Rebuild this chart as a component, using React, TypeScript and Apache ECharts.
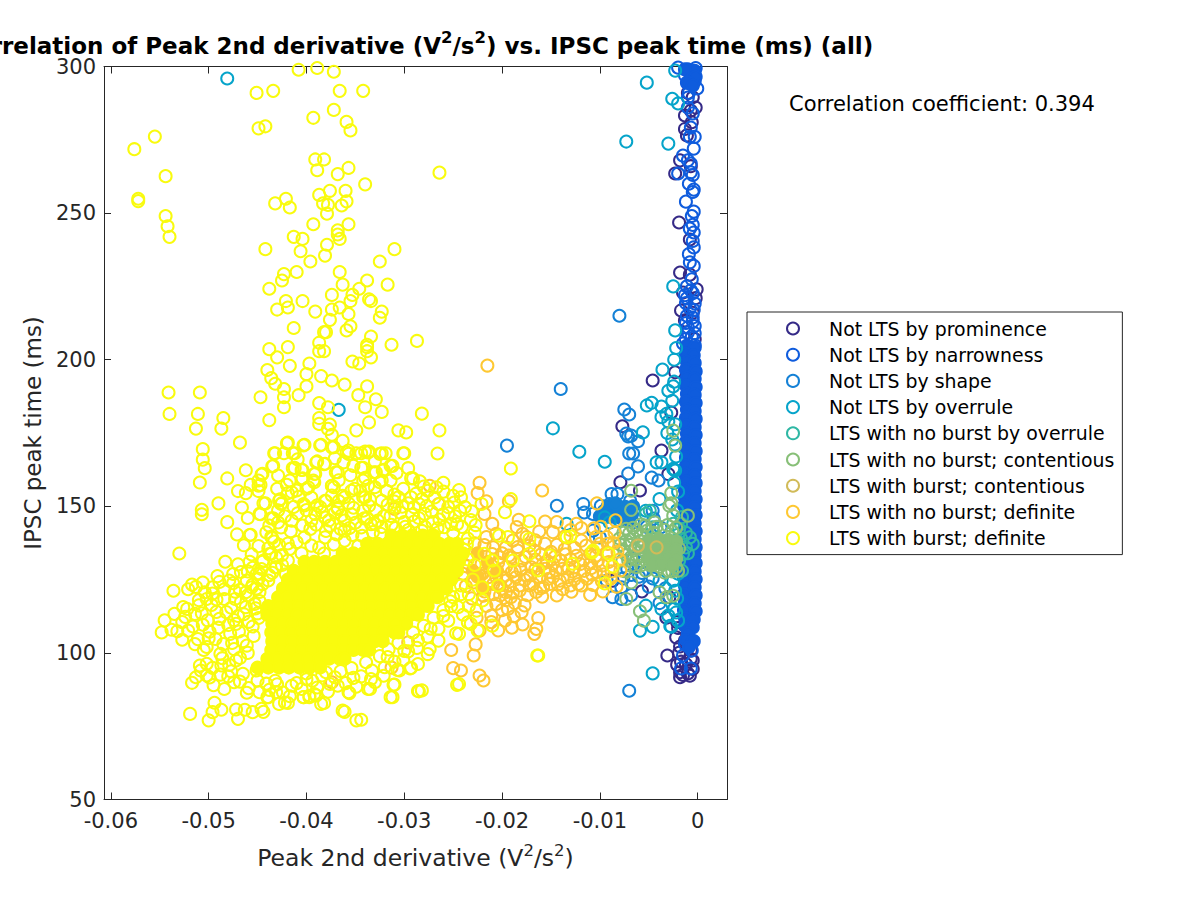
import React, { useEffect, useRef } from "react";
import * as echarts from "echarts";

const titleParts = ["Correlation of Peak 2nd derivative (V", "2", "/s", "2", ") vs. IPSC peak time (ms) (all)"];
const xTicks = [-0.06, -0.05, -0.04, -0.03, -0.02, -0.01, 0];
const yTicks = [50, 100, 150, 200, 250, 300];
const categories = ["Not LTS by prominence", "Not LTS by narrowness", "Not LTS by shape", "Not LTS by overrule", "LTS with no burst by overrule", "LTS with no burst; contentious", "LTS with burst; contentious", "LTS with no burst; definite", "LTS with burst; definite"];
const colors = ["#352A87", "#0F5CDD", "#1481D6", "#06A4CA", "#2EB7A4", "#87BF77", "#D1BB59", "#FEC832", "#F9FB0E"];

// x values are in units of 0.001 V^2/s^2, y values in ms
const prominence = [[-0.5,289.5],[-1.3,283.3],[-0.7,285],[-0.2,286],[-1.1,276.5],[-1.3,278.7],[-1.8,268],[-2.3,263.5],[-0.7,266],[-1.9,246.8],[-0.8,241],[-1.8,229.7],[-0.8,229],[-1.5,222.9],[-0.1,224],[-1.7,216.8],[-1.3,213.4],[-0.2,221],[-0.3,207],[-0.5,216],[-1,291],[-0.6,281],[-4.6,192.9],[-7.7,177.3],[-3.7,169],[-5.9,155.4],[-7.9,158.2],[-5.7,121],[-3.1,99.1],[-1.8,91.7],[-0.8,92.2],[-1.8,93.4],[-0.5,94.5],[-1.2,96.2],[-2.3,195.7],[-2.7,182],[-3,161],[-8.7,124.6],[-3.2,112],[-2.9,119],[-1.3,104.2],[-0.7,100.8],[-2.2,105.3],[-1.8,102.2],[-0.5,97.4],[-1,93],[-1.5,92.5],[-2,108.5],[-2.1,110.5],[-1.9,100],[-0.7,98],[-1.7,97],[-2.1,96]];
const narrownessRings = [[-1,299],[-0.5,297.5],[-0.2,299.5],[-1.3,297],[-0.7,296],[-0.3,295],[-1.1,294.5],[-0.04,292.5],[-2,299.6],[-1,289.4],[-0.7,279.2],[-1.5,269.6],[-0.7,266.9],[-0.7,263.9],[-2,263.5],[-0.4,258],[-0.5,257.2],[-1.2,253.9],[-0.4,250.5],[-0.6,249],[-0.8,244.7],[-0.4,243.4],[-0.5,240.5],[-0.4,238.3],[-0.8,233.2],[-0.6,227.4],[-0.7,223.7],[-1.1,220.9],[-1.2,219.3],[-0.3,219.2],[-0.5,214.4],[-0.3,211.5],[-1,209.3],[-0.3,209],[-1.5,205.5],[-0.3,205],[-0.6,100.8],[-1.7,94.7],[-0.7,94.7],[-1.5,99.1],[-1.3,103],[-0.4,104],[-1.2,207],[-0.6,208],[-1,211],[-0.5,213],[-1.1,215],[-0.4,217],[-1.2,212.5],[-0.8,217.5],[-1.3,222],[-0.5,222.7],[-1.1,225],[-0.4,232],[-0.9,236],[-0.5,246],[-0.9,260],[-0.5,263],[-1,268],[-0.4,272],[-1,286],[-0.5,284],[-0.8,276],[-0.3,276],[-0.9,291]];
const narrownessCore = [[-0.9,298.5],[-0.3,298.5],[-1.3,299],[-0.6,296],[-0.2,296.5],[-1,294.5],[-0.5,293.5],[-1.1,204.8],[-0.3,204.2],[-1.2,202],[-0.4,201.5],[-1.1,199.3],[-0.3,198.9],[-1.2,196.6],[-0.2,196],[-1.1,193.9],[-0.3,193.5],[-1.2,191.2],[-0.2,190.7],[-1.1,188.4],[-0.3,188],[-1.2,185.7],[-0.2,185.2],[-1.1,183],[-0.3,182.5],[-1.2,180.2],[-0.2,179.8],[-1.2,177.5],[-0.3,177],[-1.1,174.8],[-0.2,174.3],[-1.2,172],[-0.3,171.6],[-1.1,169.3],[-0.2,168.8],[-1.2,166.6],[-0.3,166.1],[-1.2,163.8],[-0.2,163.4],[-1.3,161.1],[-0.3,160.6],[-1.2,158.4],[-0.2,157.9],[-1.3,155.6],[-0.3,155.2],[-1.3,152.9],[-0.2,152.4],[-1.4,150.2],[-0.3,149.7],[-1.3,147.4],[-0.2,147],[-1.4,144.7],[-0.3,144.2],[-1.3,142],[-0.2,141.5],[-1.4,139.2],[-0.3,138.8],[-1.3,136.5],[-0.2,136],[-1.4,133.8],[-0.3,133.3],[-1.4,131],[-0.2,130.6],[-1.3,128.3],[-0.3,127.8],[-1.4,125.6],[-0.2,125.1],[-1.3,122.8],[-0.3,122.4],[-1.4,120.1],[-0.2,119.6],[-1.3,117.4],[-0.3,116.9],[-1.4,114.6],[-0.2,114.2],[-1.3,111.9],[-0.4,111.4],[-1.3,109.2],[-0.5,108.7],[-1,106.6],[-1.2,104.4],[-0.5,104],[-0.9,102]];
const shapeRings = [[-8,215],[-14,190],[-19.5,170.7],[-7.5,183],[-7,181.3],[-7.3,174.8],[-6.8,174.1],[-7.1,173.8],[-6.1,172.2],[-7,168],[-6.6,168],[-6.1,163.6],[-7.1,161.2],[-8.8,154.2],[-8.2,154.2],[-14.4,150.2],[-11.7,150.8],[-11.6,147.9],[-10.7,147.4],[-9.9,150.2],[-9,150.8],[-7.6,148.5],[-8.7,147.4],[-6.9,151.9],[-9.3,124.6],[-8.7,119],[-7.8,118.4],[-7,87.1],[-4.7,159.8],[-4,158.8],[-10.7,141.7],[-10,139.4],[-8,145.1],[-9.3,148.5],[-8,149.7],[-7.3,146.2],[-4.6,148.5],[-6.6,144.5],[-6.6,132],[-5.6,131],[-5.2,143],[-3.8,142.8],[-4.5,145.8],[-7.2,128.6],[-5.7,127.3],[-7.8,122.4],[-6.8,119.7],[-6.8,126.6],[-6,126],[-4.6,125.4],[-7.6,125.4],[-5,122.6],[-3.3,122],[-3.9,117]];
const shapeCore = [[-9.2,150],[-8.2,148],[-7.4,149.8],[-8.4,151],[-7.9,146],[-6.7,147.5],[-9.6,148.4],[-8.9,146.4],[-7,145.2],[-6.6,150],[-10,146.6]];
const overruleRings = [[-48.1,295.9],[-36.7,182.9],[-2.3,298.6],[-5.2,294.5],[-2.6,289],[-2,287.4],[-7.3,274.4],[-3,273.7],[-2.5,225],[-2.3,210],[-14.8,176.6],[-12.1,168.6],[-9.5,165.2],[-3.6,196.6],[-3,189.4],[-2.5,190.9],[-2.6,186],[-5.2,184.4],[-4.7,185.3],[-3.7,184],[-3.7,180.4],[-3.2,181.5],[-3,178.9],[-2.3,178],[-3.1,175],[-5.6,175.2],[-2.3,171],[-3.7,165],[-4.2,165],[-2.4,162.5],[-2.5,162.8],[-2.3,162.2],[-3.9,152.5],[-5.3,148.5],[-4.6,93],[-5.9,107.6],[-4.6,108.9],[-5.3,116.1],[-3.7,115],[-2.7,108.9],[-2.8,109.2],[-3,112.7],[-13.4,144],[-9.5,146.2],[-9,144.5],[-3.9,124.6],[-2.5,124.6],[-2,127],[-2.4,200],[-2.2,204],[-2.4,192.5],[-2.6,172.8],[-2.2,167],[-2.4,158],[-2,155],[-2.1,148.6],[-2.1,118.6],[-2.4,115],[-2.2,113.8],[-2.3,121.2],[-2,111]];
const noBurstOverrule = [[-0.8,139.4],[-1.2,141],[-0.5,137.2],[-1.5,133.7],[-2.2,138.3],[-1.9,142.3],[-2.5,144],[-4.6,142.8],[-5.3,147.4],[-4.9,148.5],[-2.3,136],[-1.2,136],[-1.9,131.5],[-1.6,128],[-1,134],[-1.7,139],[-1.7,144],[-1.6,146.3]];
const contentiousRings = [[-6.8,155.3],[-6.8,148.8],[-1,146.8],[-2.5,175.8],[-2.3,170.7],[-2.7,154.5],[-2.9,150.2],[-2.5,146.8],[-2.7,151],[-4.4,144.5],[-5.8,143.8],[-7.3,142.3],[-7.3,118.4],[-6.8,124],[-5.9,114.2],[-5.5,111],[-3.9,120.7],[-2.5,119.5],[-3.2,119],[-6.6,142.7],[-5.8,140.5],[-7.3,138.3],[-6.6,139.4],[-7.5,134.9],[-7.1,131.5],[-6.3,129.2],[-5.3,128],[-4.2,128],[-3,128],[-2.2,129.2],[-6.4,135.6],[-5.6,133],[-6,137],[-3.4,142],[-2.6,141.5],[-4.5,141],[-6.8,132.8],[-7.6,141],[-7,140.8],[-7.9,136.9],[-7.3,133.4],[-6.5,135],[-6.3,131.9],[-5.8,129.8],[-5.9,138.1],[-5.2,141.6],[-4.9,130],[-3.9,129.4],[-3.4,127.4],[-2.6,127.8],[-1.9,135.6],[-8,139],[-7.7,131.5],[-6.9,136.9],[-6.2,141.7],[-5.4,143.4],[-4.2,143],[-3.1,143.6],[-2.2,142.7],[-2,128],[-6.8,129.7],[-7.5,127.9],[-5.7,136]];
const contentiousCore = [[-5,138.5],[-4,138.8],[-3,138.6],[-2.2,138],[-5.2,135.5],[-4.2,135.8],[-3.2,135.7],[-2.2,135.2],[-5,132.5],[-4,132.8],[-3,132.6],[-2.2,132.2],[-4.6,130],[-3.6,130.2],[-2.6,130]];
const burstContentious = [[-6.1,136.6],[-4.2,136]];
const noBurstDefinite = [[-21.5,198],[-22.3,158],[-22.5,154.5],[-15.9,155.4],[-19.3,151.7],[-21.6,151.7],[-21.8,147.4],[-21,144],[-18.3,145.4],[-15.6,144.8],[-14.4,144.6],[-11.9,142.6],[-16.2,141.4],[-14.8,141.2],[-13.6,139.7],[-11.9,138.3],[-10.4,139.5],[-17.9,140.6],[-18.9,138.3],[-18.4,134.9],[-16.7,134.9],[-15.6,137.2],[-13.6,135.3],[-12.6,135.8],[-11.4,136.6],[-10.4,133.2],[-14,131.5],[-13.8,128.7],[-14.8,130.4],[-15.6,128.7],[-17,129.2],[-18,131.5],[-17.5,126.4],[-18.7,128.1],[-19.9,125.8],[-19.2,123],[-18.2,123],[-17.2,123],[-15.1,123.5],[-14.3,123.3],[-13.3,125.8],[-12.2,123.5],[-11.9,123],[-10.8,126.7],[-9.7,129.8],[-12.9,120.9],[-15.9,119.2],[-14.4,119.6],[-11,119.8],[-9.7,121],[-20.2,119.6],[-19.1,119],[-20.6,116.7],[-19.4,115],[-17.7,116.2],[-18,113.9],[-21.1,112.7],[-19.7,111],[-21.1,110.5],[-17.9,109.7],[-16.3,111.9],[-16.5,108.2],[-16.7,106.5],[-22.3,107.6],[-22.7,102.9],[-22.9,99.1],[-25.2,101],[-25,94.8],[-24.2,94],[-22.3,92.3],[-21.9,90.6],[-22,127],[-21.4,125.8],[-22.3,126.4],[-20.9,123.5],[-20.2,123],[-19.6,124.7],[-20.9,120],[-19.6,120.7],[-18.6,125.8],[-18.2,121.3],[-16.8,123.5],[-16.2,125.8],[-15.8,122.4],[-14.8,125.8],[-14.5,128.1],[-12.6,129.2],[-11.7,131.5],[-11,133.8],[-10,137.2],[-9.3,134.3],[-9.3,139.5],[-10.2,131.5],[-17.5,139.5],[-19.6,136],[-19.1,132.6],[-20.2,132.6],[-20.9,136],[-20.6,140.6],[-21.6,139.5],[-18.5,142.9],[-10.3,151],[-8.4,145.2],[-37.4,90],[-31.3,95],[-29.6,103.6],[-27.4,157],[-26.5,150.8],[-31,149.1],[-8.6,137.5],[-8.2,134.5],[-9.1,131],[-8.8,127.8],[-9.8,124.5],[-8.5,141],[-24,127],[-24.6,131],[-23.7,122.8],[-23.2,133.5],[-22.8,137.4],[-22.1,130.3],[-21.8,136.8],[-21.2,128.7],[-21,133.7],[-20.4,130.8],[-20,134],[-19.6,129.4],[-19,127.6],[-18.4,136.1],[-17.6,132.7],[-17.2,136.6],[-16.6,131.8],[-16,133.6],[-15.4,131.4],[-15,134.5],[-14.4,136.9],[-13,131.9],[-12.8,127.8],[-12.4,133.1],[-11.6,128],[-11,130.5],[-10.4,127.6],[-9.9,143],[-10.6,142.5],[-13,141.9],[-12.4,144],[-16.6,138.4],[-19.6,118],[-18.7,117],[-17.4,119.7],[-16.5,120.8],[-15.3,125.2],[-13.8,121.7],[-13,123],[-10.7,123.2],[-8.3,122.6],[-21.6,116],[-21.8,121],[-23.1,118.6],[-22.6,112],[-20,114.6],[-18.8,112.5],[-20.4,107.7],[-19,108.6],[-23.6,129.5],[-22.9,124],[-21.9,119.5],[-21.2,124.5],[-20.6,125.9],[-20,121.9],[-19.3,133.2],[-18.9,120.5],[-18.1,128.3],[-17.7,124.9],[-17.1,126.4],[-16.6,128.5],[-16.1,122],[-15.8,130.4],[-15.2,127.7],[-14.6,132.8],[-14.1,124.6],[-13.5,133.6],[-13.2,128.9],[-12.6,125.1],[-12,130.3],[-11.3,125.3],[-10.9,128.9],[-10.2,135.8],[-9.6,126.8],[-9.2,137.2],[-8.9,125.3],[-8,131.8],[-7.9,128.1]];
const noBurstDefiniteCore = [[-23,128],[-22.5,126],[-21.5,131],[-22.5,134],[-20.5,128],[-22,122]];
const burstTop = [[-40.8,298.9],[-38.9,299.5],[-37.2,298.2],[-45.1,291],[-43.4,291.7],[-36.6,291.7],[-34.2,291.7],[-37.2,285.2],[-39.3,282.5],[-35.9,281.1],[-35.5,278.2],[-44.9,278.9],[-44.2,279.6],[-55.5,276.1],[-57.6,271.8],[-54.4,262.6],[-39.1,268.3],[-38.2,268.3],[-38.9,264.6],[-35.7,265.4],[-36.8,263.3],[-34,259.8],[-37.6,257.6],[-36,257.6],[-38.7,256.2],[-42.1,254.9],[-43.2,253.3],[-41.7,251.9],[-38.3,253.3],[-37.8,252.8],[-36.4,252.6],[-35.9,254],[-57.2,254.9],[-57.2,254.1],[-37.9,249.8],[-54.4,249],[-54.2,245.5],[-54,241.9],[-39.3,246.2],[-35.7,246.2],[-36.8,244.1],[-36.8,242.7],[-36.6,241.2],[-41.3,241.9],[-40.4,241.2],[-37.9,239.2],[-31,237.7],[-44.2,237.7],[-40.6,237],[-38.1,235.5],[-39.6,233.5],[-32.5,233.5],[-36.6,229.9],[-41,229.9],[-42.3,229.2],[-42.5,227],[-33.8,227],[-36.3,225.6],[-31.7,225.6],[-34.6,224.2],[-43.8,224.2],[-37.4,222.1],[-35.3,222.1],[-35.5,220],[-33.6,220.6],[-33.4,220],[-42.1,220],[-40.4,220],[-41.9,217.8],[-43,217.1],[-37.4,217.1],[-36.6,217.8],[-39.1,216.4],[-32.3,216.4],[-32.5,214.3],[-35.7,215.6],[-37.6,213.6],[-41.3,210.8],[-35.5,211.4],[-35.9,210],[-38,209.4],[-38.2,209.4],[-33.4,207.9],[-38.7,205.8],[-41.9,204.3],[-43.8,203.6],[-33.8,205.1],[-33.8,204.3],[-31.3,205.1],[-28.7,206.4],[-38.7,202.9],[-38.2,202.9],[-33.8,202.9],[-33.4,200.8],[-43,200.8],[-35.3,199.4],[-34.6,198.7],[-39.7,198.7],[-41.7,197.9],[-44,196.5],[-40,195.1],[-38.5,194.4],[-37.4,192.9],[-43.6,193.7],[-43.2,191.8],[-36.1,191.5],[-33.8,190.9],[-42.3,190],[-40,190.9],[-54.1,188.8],[-50.9,188.8],[-26.4,263.8]];
const burstMiddle = [[-44.7,187.2],[-42.3,187.2],[-42.3,183.8],[-40.8,187.9],[-38.7,185.2],[-37.8,183.8],[-34.7,187.9],[-32.9,186.5],[-34,183.8],[-32.3,182.2],[-28.2,181.6],[-54,181.5],[-51.1,181.5],[-48.5,180.1],[-51.3,176.5],[-48.7,176.5],[-43.8,179.4],[-38.7,180.1],[-38.7,178.1],[-37.6,177.9],[-37.8,176.4],[-33.6,178.6],[-34.9,175.9],[-30.6,175.9],[-29.8,175.2],[-26.4,175.9],[-46.8,171.7],[-37.4,174.4],[-36.3,172.3],[-41.9,171.7],[-40.2,171],[-38.5,171],[-37.2,170.2],[-50.6,169.5],[-43.2,168.1],[-42.3,168.1],[-41.2,168.1],[-35.7,169],[-35.7,167.9],[-34.9,168.1],[-34,168.7],[-33.6,168.7],[-32.3,168.1],[-31.9,168.1],[-30,168.1],[-26.6,168],[-50.6,165.9],[-50.4,163],[-50.9,158.1],[-46.2,162.3],[-48.1,159.5],[-43.4,163.8],[-38.9,165.3],[-38.1,164.5],[-41.2,163.1],[-40.4,162.4],[-36.8,161.6],[-34.2,163.1],[-31.2,163.8],[-32.1,162.4],[-32.9,161.6],[-29.1,159.5],[-44.5,161.1],[-47,155.2],[-46.2,154.5],[-45.7,157.3],[-44.9,158.8],[-44.9,155.2],[-44.7,157.3],[-40.4,159.5],[-39.1,161.1],[-39.3,158.8],[-40,156],[-37.4,157],[-37.2,156.5],[-34,159.7],[-32.3,158.8],[-35.1,156],[-31.8,155.2],[-49,151],[-46.6,149.6],[-50.7,148.8],[-50.7,147.3],[-48.1,144.6],[-44.2,151],[-44.7,147.3],[-42.7,152.4],[-42.5,151.1],[-41,155.4],[-41.9,154.5],[-40.2,150.3],[-38,151.8],[-38.9,150.3],[-36.1,153.1],[-36.8,149.5],[-34,153.1],[-45.7,140.3],[-46.4,136.7],[-43.4,145.9],[-53,133.9],[-48.3,131.1],[-43.6,139.6],[-43.6,133.8],[-45.8,131.1],[-44.5,131.1],[-43.1,129.2],[-49.1,126.2],[-47.5,126.9],[-53.6,121.2],[-51.7,123.3],[-51.3,122.5],[-50.6,124],[-49.6,122.4],[-47.5,123.8],[-45.5,123.3],[-44.8,127],[-19.1,162.9],[-19.1,152.5],[-19.7,148]];
const burstUpperCore = [[-42,171.5],[-40.3,170.8],[-38.6,170.8],[-37.4,170.1],[-43.3,168.1],[-41.4,168.1],[-35.9,168.4],[-34.4,168.1],[-33.7,168.4],[-32.5,167.9],[-30.1,168.1],[-43.5,163.6],[-41.4,163],[-39,165],[-38.2,164.4],[-37,161.6],[-34.4,163.1],[-33.1,161.6],[-31.4,163.8],[-32.2,162.2],[-29.3,159.6],[-26,158],[-44.6,160.8],[-44.9,157],[-40.5,162.4],[-40.5,159.3],[-39.2,161],[-39.2,158.2],[-37.4,157],[-41.5,154.8],[-39.8,156.5],[-34.2,158.8],[-32.5,158.2],[-31.8,155.3],[-34.5,155.3],[-36.3,153.6],[-27.6,155.3],[-26.7,156.5],[-29.3,153.1],[-30.6,153.1],[-25,153.6],[-24.2,153.1],[-26.4,150.8],[-44.4,151],[-44.8,147.4],[-42.8,151.9],[-42.6,150.8],[-40.3,150.8],[-38.1,151.9],[-38.6,149.7],[-36.8,149.1],[-34.2,153.1],[-34.2,148.5],[-32.3,151.9],[-31,149.7],[-29,149.7],[-27.9,147.4],[-25.5,149.7],[-23.8,149.7],[-22.1,150.8],[-45.8,140.2],[-43.6,145.9],[-43.5,139.2],[-42.6,142.8],[-41.5,145.1],[-39.5,145.1],[-38.1,146.2],[-36.1,145.1],[-34.4,142.8],[-32.7,145.1],[-41.7,135.5],[-40.2,139.4],[-38.1,139.4],[-36.1,141.7],[-43.8,133.7],[-43.2,129.2],[-45.1,126.9],[-45.6,122.4],[-44.4,131.5],[-41.9,131.5],[-41.5,125.8],[-43.9,124.7],[-40.9,147.6],[-39.6,142.3],[-37.6,143.4],[-35.4,147.3],[-33.4,143.9],[-31.4,146.7],[-30,144.6],[-28.5,146],[-26.4,145.5],[-24.8,146.6],[-23.2,145.3],[-41,137.8],[-38.7,135.9],[-42.8,136.9]];
const burstRight = [[-17.2,144.9],[-17.2,138.9],[-13.4,139.5],[-13,139.8],[-15.1,133.2],[-17.2,133.8],[-16.3,128.1],[-12.8,130.4],[-10.8,134.3],[-20.8,128.1],[-20.4,123],[-22,122.4],[-21,109.3],[-23.2,109.9],[-24.4,106.5],[-16.3,99.1],[-24.4,89.4],[-22,117.9],[-20.3,140],[-19.4,139.5],[-21.8,133.8],[-21,131.5],[-18.9,131.5],[-9.5,123.7],[-9.1,133.9],[-8.7,129.5],[-10.7,134.9],[-23.6,137],[-22.8,141],[-24.2,120],[-23.4,116],[-24,113],[-22.6,114.4],[-25.3,117.6]];
const burstLowerLeft = [[-54.8,107],[-54.5,111.1],[-53.8,107.9],[-53.2,107.4],[-53.5,113.3],[-52.6,115.6],[-52.2,115],[-52.1,107.6],[-51.4,113.3],[-51.1,104.7],[-50.6,109.6],[-50.1,111.1],[-49.2,114],[-49.3,104.8],[-48.4,118.4],[-47.3,118.4],[-50.2,118.4],[-49.6,120.2],[-48.2,113.9],[-47.2,109.9],[-46.2,115.6],[-45.3,116.7],[-47.4,101.3],[-50.9,95.7],[-50.2,96.3],[-50.8,94],[-50.2,92.3],[-51.7,89.8],[-51.3,91.7],[-48.7,95.7],[-48.8,92.6],[-48,92],[-47.4,90],[-46.5,92.9],[-45.9,88],[-45.1,94],[-44.1,89.5],[-44,84.9],[-43.1,86.6],[-42.8,82.6],[-41.9,82.9],[-40.3,84.9],[-39.7,84.9],[-39,85.5],[-38.2,82.9],[-36.1,79.9],[-34.9,77],[-34.4,77.2],[-49.4,83],[-48.7,80.6],[-49.6,79.8],[-51.9,79.2],[-50,77],[-47.2,80.7],[-47,77.5],[-46.3,80.6],[-45.5,79.8],[-44.4,79.9],[-46.5,104],[-45.5,109],[-47,112.6],[-45,113.5],[-46,100],[-47.8,106.5],[-48.8,99.7],[-49.9,107.2],[-48,109.5],[-46,119.6],[-44.8,120.8],[-46.8,121.5],[-51,118],[-52.7,110.5],[-48.5,103],[-47.2,97.4]];
const burstLowerEdge = [[-31.4,84.9],[-31.1,89.1],[-28.5,86.9],[-28.6,96.2],[-29.4,94.7],[-30.7,94.2],[-27.6,99.6],[-27.4,101.3],[-26.5,104.2],[-24.7,106.7],[-23.5,110.4],[-22.5,107.6],[-24.6,89.1],[-36.3,80.3],[-38.5,82.6],[-40.3,84.9],[-42.2,83.1],[-43.9,84.9],[-44.6,80.9],[-39.7,85.4],[-39.2,86],[-35.7,86.6],[-33.7,87.7],[-32,95.1],[-33.4,91.1],[-36.8,88.8],[-37.6,89.4],[-41.5,88.8],[-43.2,90.5],[-31,89.2],[-31.2,84.9],[-28.6,87],[-30.5,94],[-29.3,94.9],[-35.6,86.3],[-33.5,87.7],[-35.2,91.5],[-38,93.4],[-40,91],[-31.7,98.6],[-30,100.7],[-28.6,104.3],[-27.3,108.3],[-26,112.6],[-25.2,116],[-16.4,99.1],[-28.2,87.2]];
const burstAroundLeft = [[-46.8,98.3],[-46.1,102.5],[-47.6,103.4],[-45.4,105.8],[-46.9,107.3],[-45.9,110.6],[-47.4,111.2],[-44.9,111.9],[-46.4,113.2],[-45.2,115.2],[-47.7,115.4],[-46.7,117.3],[-44.8,117.7],[-46.2,120.7],[-47.3,120.9],[-45.1,122],[-44.5,123.4],[-46.1,124.7],[-44.9,125.3],[-43.8,126.5],[-44.6,128.6],[-43.5,127.3],[-42.5,130],[-45.5,129],[-43.9,135.7],[-42.5,133.4],[-41.9,137.3],[-43.3,138],[-44.1,141.1],[-41.6,141.5],[-42.9,144.5],[-40.5,134],[-39.5,136.6],[-38.2,133.9],[-37.2,137],[-36.1,138.3],[-35.3,140.2],[-34.7,136.4]];
const burstAroundAbove = [[-40.4,143.4],[-39.1,147.4],[-38,141.6],[-37.1,147.8],[-36.5,142.3],[-35.7,151],[-35,144.4],[-33.8,146],[-33.2,141.2],[-32.9,148.6],[-32.3,143],[-31.7,150.6],[-30.9,142.6],[-30.4,147.8],[-29.6,141.9],[-29,144.8],[-28.5,150.8],[-27.9,143],[-27.2,148.2],[-26.6,142.5],[-26,147.3],[-25.2,144],[-25,141],[-24.3,148.5],[-24.1,143],[-23.5,139],[-23.1,148.3],[-22.7,143.6],[-23.9,135.2],[-22.8,130],[-23.5,131.9],[-33.5,152.3],[-35.4,155.3],[-36.7,151.8],[-30.1,156],[-31,151.6],[-28.2,152.5],[-28,156.7],[-33,156.5],[-29.6,151],[-24.9,151.3],[-26,155],[-43,156],[-41.7,158.8],[-36.2,165],[-35.2,163.8],[-33,165.3],[-30.8,161.4],[-29.6,163],[-28.4,158.5],[-37.1,166.4],[-42.9,160.5],[-46,146],[-47.1,140.4],[-40.9,166]];
const burstDenseAbove = [[-42.2,146.6],[-41.3,149.8],[-40,148.7],[-39,143.7],[-38.4,148.1],[-37.7,145.2],[-36.9,140.4],[-36.4,146.9],[-35.6,142.6],[-35.2,149.5],[-34.3,139.9],[-34.1,145.9],[-33.6,150.2],[-33,144],[-32.4,140.6],[-32.1,146.6],[-31.3,143.7],[-31,154],[-30.2,149.9],[-29.9,143],[-29.2,147.1],[-28.8,154.3],[-28.2,141.6],[-27.7,150.1],[-27.1,144.6],[-26.9,153],[-25.9,142.9],[-25.5,147.6],[-24.6,143.9],[-24.4,155.5],[-42.9,148.6],[-43.8,143.4],[-40.8,153.2],[-37.4,153.7],[-39.5,153],[-42,157.3],[-36.7,158.9],[-35.5,160.6],[-33.7,157],[-31.4,158.8],[-46.7,127.6],[-45.6,133.6],[-44.9,136.4],[-46,127.8],[-47,130.2],[-42.1,126.8],[-43.1,132.6]];
const burstAroundBelow = [[-46.8,90.2],[-46.1,86.4],[-45,90.6],[-44.8,86.6],[-43.8,87.4],[-43,89.3],[-42.4,86.5],[-41.7,85.2],[-41,89.7],[-40.5,87.7],[-40,93],[-39.4,90.5],[-38.9,88.2],[-38.4,92.3],[-37.8,86.8],[-37.1,91.7],[-36.5,93.8],[-36,89.7],[-35.4,94.8],[-34.9,88.5],[-34.4,92],[-33.9,96.8],[-33.3,94],[-33,90],[-32.5,98.9],[-32.1,92.2],[-31.6,101.2],[-31,97],[-30.6,103.4],[-30.1,97.6],[-29.6,100.5],[-29.1,106.9],[-28.7,101.7],[-28,109.2],[-27.6,105.5],[-27,112],[-26.5,108.2],[-26,114.6],[-25.5,111],[-25,119],[-24.5,115.6],[-24.2,123],[-23.4,120],[-23,125],[-48.4,87.7],[-49.5,89],[-47.7,93.7],[-49.9,91.6]];
const burstFarLeft = [[-50.5,101],[-51.4,103],[-52.7,104.5],[-50,105],[-49,108.6],[-51.6,109],[-48.9,111.6],[-50.7,113.5],[-52.4,112.3],[-51,116.2],[-49.7,116.4],[-48.4,121.7],[-50.4,120.7],[-49.2,118.2],[-52.1,121.7],[-47.9,124.7],[-48.9,124.2],[-50.2,102],[-48.6,98.2],[-49.6,94.9],[-47.9,95.9]];
const burstCoreRows: [number, number[]][] = [
  [140, [-31.3,-30.2,-29.2,-28.1,-27]],
  [137.2, [-33.8,-32.7,-31.7,-30.6,-29.6,-28.5,-27.5,-26.4,-25.4,-24.6]],
  [134, [-36.3,-35.2,-34.2,-33.1,-32.1,-31,-30,-28.9,-27.9,-26.8,-25.8,-24.7,-24]],
  [131.1, [-40.2,-39.2,-38.1,-37,-36,-34.9,-33.9,-32.8,-31.8,-30.7,-29.7,-28.6,-27.6,-26.5,-25.5,-24.4]],
  [128, [-41.3,-40.3,-39.2,-38.2,-37.1,-36.1,-35,-34,-32.9,-31.9,-30.8,-29.8,-28.7,-27.7,-26.6,-25.6,-24.6]],
  [125, [-41.9,-40.8,-39.8,-38.7,-37.7,-36.6,-35.6,-34.5,-33.5,-32.4,-31.4,-30.3,-29.3,-28.2,-27.2,-26.1,-25.2]],
  [122, [-42.4,-41.4,-40.3,-39.3,-38.2,-37.2,-36.1,-35.1,-34,-33,-31.9,-30.9,-29.8,-28.8,-27.7,-26.7,-25.7]],
  [119, [-42.9,-41.9,-40.8,-39.8,-38.7,-37.7,-36.6,-35.6,-34.5,-33.5,-32.4,-31.4,-30.3,-29.3,-28.2,-27.2,-26.6]],
  [116, [-43.9,-42.8,-41.8,-40.7,-39.7,-38.6,-37.6,-36.5,-35.5,-34.4,-33.4,-32.3,-31.3,-30.2,-29.2,-28.1,-27.6]],
  [113, [-44,-43,-41.9,-40.9,-39.8,-38.8,-37.7,-36.7,-35.6,-34.6,-33.5,-32.5,-31.4,-30.4,-29.3,-28.6]],
  [110, [-43.5,-42.4,-41.4,-40.3,-39.3,-38.2,-37.2,-36.1,-35.1,-34,-33,-31.9,-30.9,-29.8]],
  [107, [-43.6,-42.6,-41.5,-40.5,-39.4,-38.4,-37.3,-36.3,-35.2,-34.2,-33.1,-32.1,-31,-30.6]],
  [104, [-43.5,-42.4,-41.4,-40.3,-39.3,-38.2,-37.2,-36.1,-35.1,-34,-33,-32.2]],
  [101, [-43.6,-42.5,-41.5,-40.4,-39.4,-38.3,-37.3,-36.2,-35.2,-34.2,-33.6]],
  [98, [-44,-42.9,-41.9,-40.8,-39.8,-38.7,-37.7,-36.6,-36.1]],
  [95, [-45,-43.9,-42.8,-41.8,-40.7,-39.7,-38.6]],
];

const rowsToPoints = (rows: [number, number[]][]) => rows.flatMap(([y, xs]) => xs.map((x) => [x, y]));
const ring = (p: number[]) => [p[0] / 1000, p[1]];
const solid = (color: string) => (p: number[]) => ({ value: ring(p), itemStyle: { color } });

const seriesPoints = (i: number): any[] => {
  const c = colors[i];
  switch (i) {
    case 0: return prominence.map(ring);
    case 1: return [...narrownessRings.map(ring), ...narrownessCore.map(solid(c))];
    case 2: return [...shapeRings.map(ring), ...shapeCore.map(solid(c))];
    case 3: return overruleRings.map(ring);
    case 4: return noBurstOverrule.map(ring);
    case 5: return [...contentiousRings.map(ring), ...contentiousCore.map(solid(c))];
    case 6: return burstContentious.map(ring);
    case 7: return [...noBurstDefinite.map(ring), ...noBurstDefiniteCore.map(solid(c))];
    default: return [
      ...[...burstTop, ...burstMiddle, ...burstUpperCore, ...burstRight, ...burstLowerLeft, ...burstLowerEdge, ...burstAroundLeft, ...burstAroundAbove, ...burstDenseAbove, ...burstAroundBelow, ...burstFarLeft].map(ring),
      ...rowsToPoints(burstCoreRows).map(solid(c)),
    ];
  }
};

const FONT = "DejaVu Sans";
const INK = "#262626";

export default function App() {
  const ref = useRef<HTMLDivElement>(null);
  useEffect(() => {
    const chart = echarts.init(ref.current!, undefined, { renderer: "svg" });
    const axisLine = { show: true, onZero: false, lineStyle: { color: INK, width: 1 } };
    const tick = (customValues?: number[]) => ({ show: true, inside: true, length: 7, lineStyle: { color: INK, width: 1 }, ...(customValues ? { customValues } : {}) });
    const supRich = {
      sup: { fontFamily: FONT, fontSize: 16.5, color: INK, verticalAlign: "top" as const, lineHeight: 28 },
      base: { fontFamily: FONT, fontSize: 23.5, color: INK, lineHeight: 28, verticalAlign: "bottom" as const },
    };
    const option: any = {
      animation: false,
      backgroundColor: "#fff",
      title: {
        left: -42,
        top: 29,
        padding: 0,
        text: `{b|${titleParts[0]}}{s|${titleParts[1]}}{b|${titleParts[2]}}{s|${titleParts[3]}}{b|${titleParts[4]}}`,
        textStyle: {
          rich: {
            b: { fontFamily: FONT, fontSize: 23, fontWeight: "bold", color: "#000", lineHeight: 28, verticalAlign: "bottom" },
            s: { fontFamily: FONT, fontSize: 16.5, fontWeight: "bold", color: "#000", lineHeight: 28, verticalAlign: "top" },
          },
        },
      },
      grid: { left: 104, top: 66.5, width: 623, height: 733, containLabel: false },
      xAxis: [
        {
          type: "value", min: -0.0607, max: 0.003, position: "bottom",
          axisLine, axisTick: tick(xTicks), splitLine: { show: false },
          axisLabel: { customValues: xTicks, formatter: (v: number) => String(v), fontFamily: FONT, fontSize: 21, color: INK, margin: 11 },
          name: "{base|Peak 2nd derivative (V}{sup|2}{base|/s}{sup|2}{base|)}",
          nameLocation: "middle", nameGap: 42, nameTextStyle: { rich: supRich },
        },
        {
          type: "value", min: -0.0607, max: 0.003, position: "top",
          axisLine, axisTick: tick(xTicks), axisLabel: { show: false }, splitLine: { show: false },
        },
      ],
      yAxis: [
        {
          type: "value", min: 50, max: 300, interval: 50, position: "left",
          axisLine, axisTick: tick(), splitLine: { show: false },
          axisLabel: { customValues: yTicks, fontFamily: FONT, fontSize: 21, color: INK, margin: 8 },
          name: "IPSC peak time (ms)", nameLocation: "middle", nameGap: 60, nameRotate: 90,
          nameTextStyle: { fontFamily: FONT, fontSize: 23, color: INK },
        },
        {
          type: "value", min: 50, max: 300, interval: 50, position: "right",
          axisLine, axisTick: tick(), axisLabel: { show: false }, splitLine: { show: false },
        },
      ],
      legend: {
        orient: "vertical", left: 747, top: 312, selectedMode: false,
        data: categories, icon: "circle",
        itemWidth: 62, itemHeight: 12, itemGap: 5.2,
        padding: [6, 8, 6, 39],
        backgroundColor: "#fff", borderColor: INK, borderWidth: 1,
        textStyle: { fontFamily: FONT, fontSize: 18.9, color: "#000", lineHeight: 21 },
      },
      graphic: [
        { type: "text", left: 789, top: 93, style: { text: "Correlation coefficient: 0.394", fontFamily: FONT, fontSize: 21, fill: "#000" } },
      ],
      series: categories.map((name, i) => ({
        name, type: "scatter", symbol: "circle", symbolSize: 12, clip: false,
        itemStyle: { color: "transparent", borderColor: colors[i], borderWidth: 2, opacity: 1 },
        data: seriesPoints(i),
      })),
    };
    chart.setOption(option);
    return () => chart.dispose();
  }, []);
  return <div ref={ref} style={{ position: "fixed", left: 0, top: 0, width: 1200, height: 900 }} />;
}
